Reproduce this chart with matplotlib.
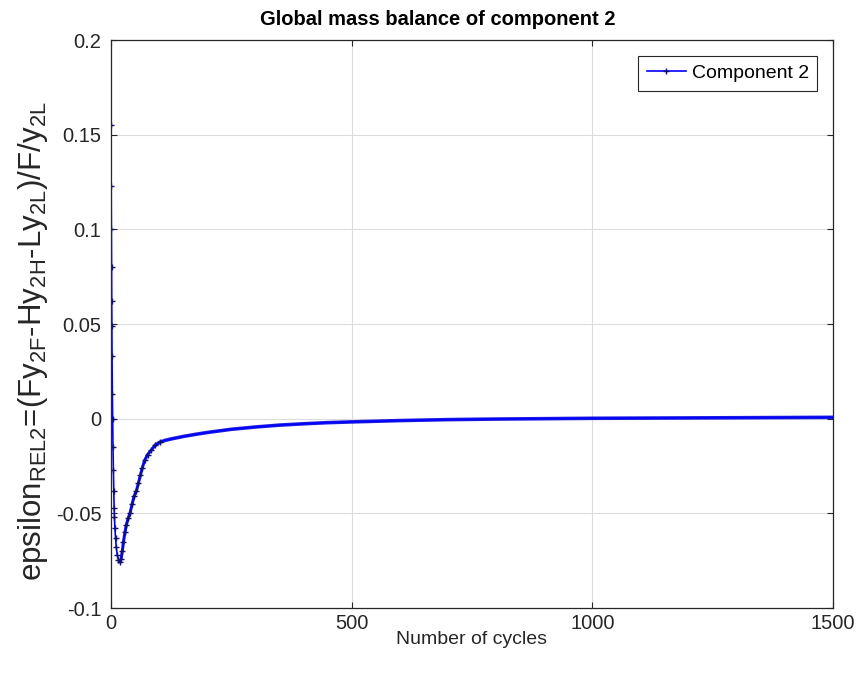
import matplotlib
matplotlib.use("Agg")
import matplotlib.pyplot as plt
from matplotlib.ticker import FuncFormatter
import numpy as np

plt.rcParams['font.family'] = ['Liberation Sans', 'DejaVu Sans']
plt.rcParams['mathtext.fontset'] = 'custom'
plt.rcParams['mathtext.rm'] = 'Liberation Sans'
plt.rcParams['axes.unicode_minus'] = False

# values
cycles = [0, 0.4, 0.8, 1.2, 1.5, 1.8, 2.2, 2.8, 3.5, 4.2, 5.0, 5.8, 6.5, 7.2,
          8.2, 9.5, 11, 13, 15.5, 18.5, 21, 23.5, 26, 29, 32, 36, 39.5, 44,
          48, 53, 57, 61, 65, 70, 76, 84, 92, 101, 112, 125, 150, 175, 200,
          250, 300, 350, 400, 450, 500, 600, 700, 800, 900, 1000, 1100, 1200,
          1300, 1400, 1500]
epsilon = [0.155, 0.123, 0.100, 0.080, 0.062, 0.049, 0.033, 0.013, 0.0,
           -0.015, -0.027, -0.038, -0.047, -0.052, -0.058, -0.063, -0.068,
           -0.072, -0.0745, -0.0757, -0.074, -0.070, -0.065, -0.060, -0.056,
           -0.0525, -0.050, -0.045, -0.041, -0.038, -0.034, -0.030, -0.026,
           -0.022, -0.019, -0.0165, -0.014, -0.0125, -0.0115, -0.0107,
           -0.0094, -0.0083, -0.0073, -0.0056, -0.0044, -0.0034, -0.0027,
           -0.0021, -0.0017, -0.0010, -0.0005, -0.0002, 0.0, 0.0002, 0.0003,
           0.0004, 0.0005, 0.0006, 0.0007]

xticks = [0, 500, 1000, 1500]
yticks = [-0.1, -0.05, 0, 0.05, 0.1, 0.15, 0.2]

fig = plt.figure(figsize=(8.63, 6.82), dpi=100)
ax = fig.add_axes([0.1286, 0.1085, 0.8366, 0.8328])

c = np.array(cycles)
e = np.array(epsilon)
# tail looks like a thick line in the original (markers packed together)
tail = c >= 90
ax.plot(c[tail], e[tail], color='#1f1fe0', lw=2.6, solid_capstyle='round')
rise = (c >= 18) & (c <= 100)
ax.plot(c[rise], e[rise], color='#1f1fe0', lw=2.2, solid_capstyle='round')
marked = list(np.where(c < 105)[0])
ax.plot(c, e, color='#0000ff', lw=1.2, marker='+', markersize=5,
        markeredgewidth=1.0, markeredgecolor='#101070', markevery=marked,
        label='Component 2')

ax.set_xlim(0, 1500)
ax.set_ylim(-0.1, 0.2)
ax.set_xticks(xticks)
ax.set_yticks(yticks)
fmt = FuncFormatter(lambda v, p: '%g' % round(v, 3))
ax.xaxis.set_major_formatter(fmt)
ax.yaxis.set_major_formatter(fmt)
ax.tick_params(direction='in', length=4, width=0.8, colors='#262626',
               labelsize=14.5, top=True, right=True, pad=7)
ax.tick_params(axis='x', pad=4)
ax.grid(True, color='#dcdcdc', lw=0.8)
ax.set_axisbelow(True)
for s in ax.spines.values():
    s.set_color('#262626')
    s.set_linewidth(0.9)

ax.set_title('Global mass balance of component 2', fontsize=14.5,
             fontweight='bold', pad=11, x=0.452)
ax.set_xlabel('Number of cycles', fontsize=14, color='#262626', labelpad=-1)
ax.set_ylabel(r'epsilon$_{\mathrm{REL2}}$=(Fy$_{\mathrm{2F}}$-Hy$_{\mathrm{2H}}$'
              r'-Ly$_{\mathrm{2L}}$)/F/y$_{\mathrm{2L}}$',
              fontsize=22.5, color='#262626')
ax.yaxis.set_label_coords(-0.085, 0.47)

leg = ax.legend(loc='upper right', fontsize=14, fancybox=False,
                framealpha=1, edgecolor='#262626', handlelength=2.0,
                handletextpad=0.3, borderaxespad=0.8, borderpad=0.45)
leg.get_frame().set_linewidth(0.8)

fig.savefig('out.png', dpi=100)
